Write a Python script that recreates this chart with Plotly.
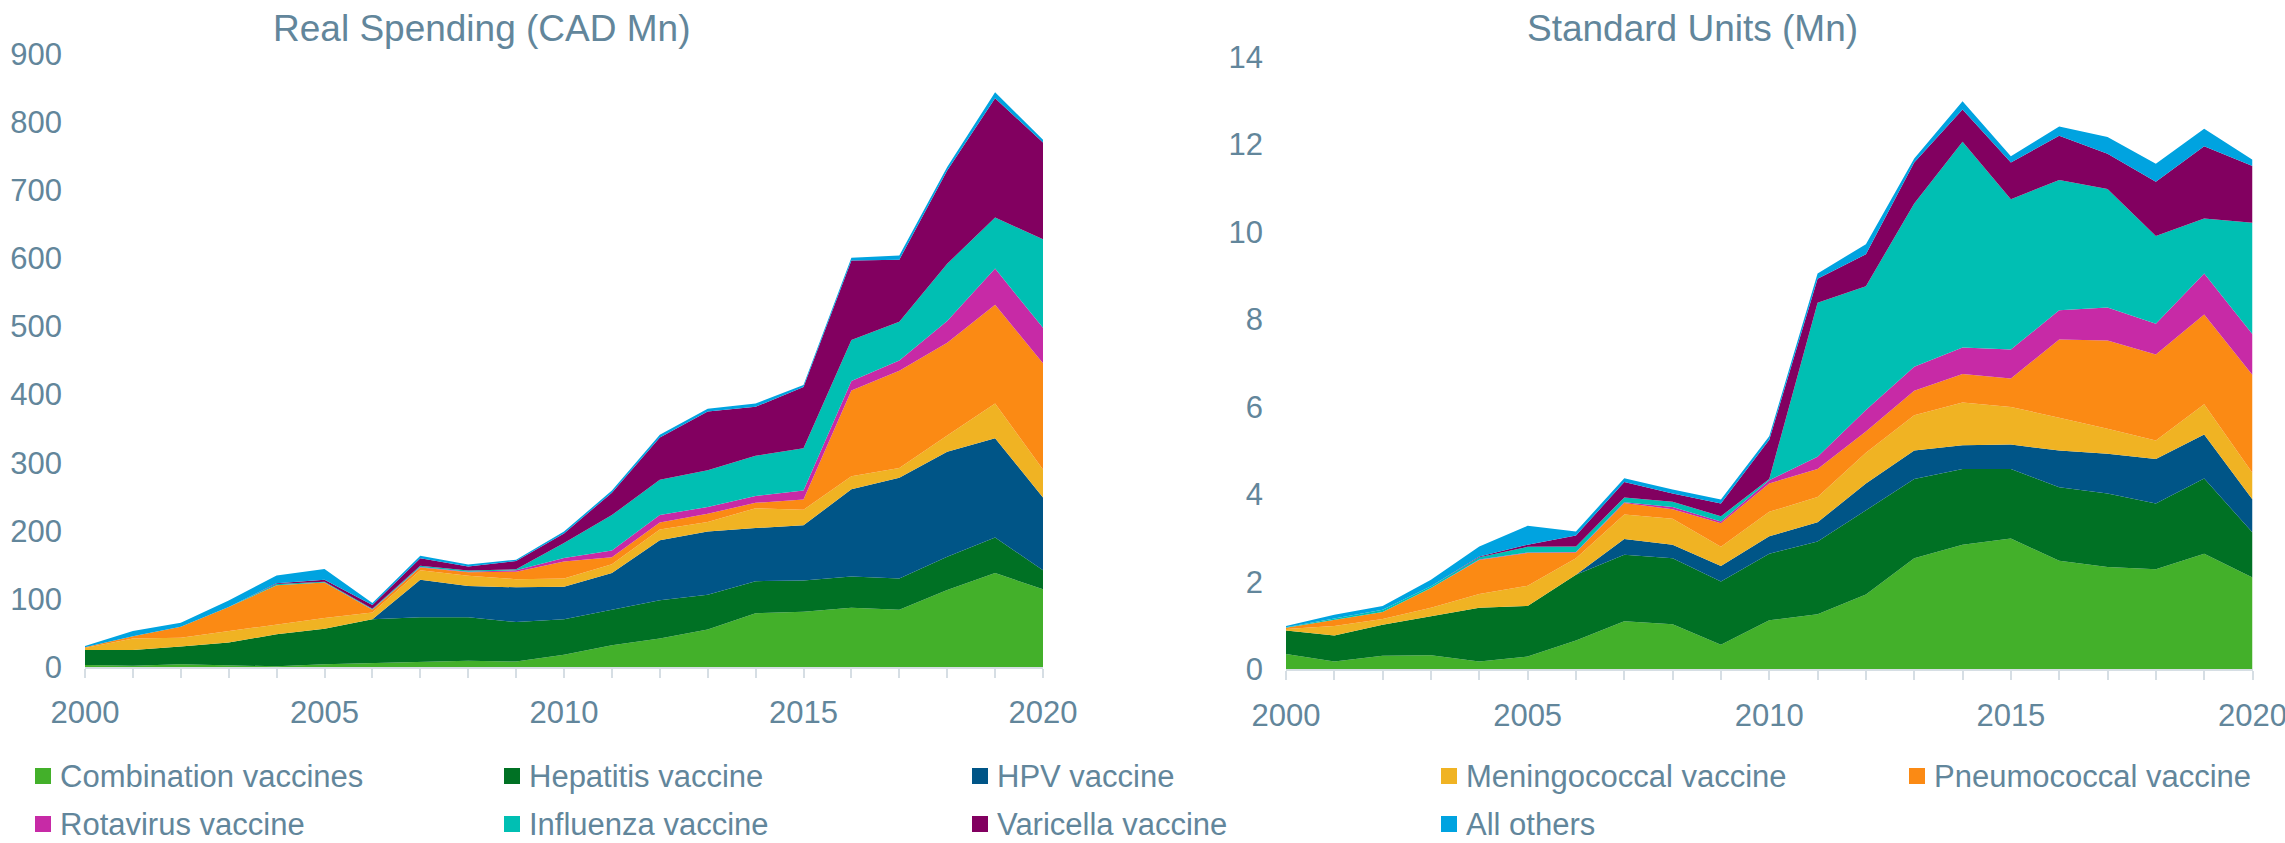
import plotly.graph_objects as go

W, H = 2285, 843

years = list(range(2000, 2021))

categories = ["Combination vaccines", "Hepatitis vaccine", "HPV vaccine",
              "Meningococcal vaccine", "Pneumococcal vaccine", "Rotavirus vaccine",
              "Influenza vaccine", "Varicella vaccine", "All others"]
colors = ["#43B02A", "#007124", "#005587", "#F0B323", "#FB8A14",
          "#C72AA6", "#00BFB3", "#820060", "#00A3E0"]

# Real Spending (CAD Mn)
spend_combination = [3, 2, 4, 2, 1, 4, 6, 8, 9, 8, 18, 32, 42, 55, 79, 81, 87, 84, 113, 138, 114]
spend_hepatitis = [22, 23, 26, 34, 47, 52, 64, 65, 64, 58, 52, 52, 56, 51, 47, 46, 46, 46, 49, 52, 28]
spend_hpv = [0, 0, 0, 0, 0, 0, 0, 55, 46, 51, 48, 54, 88, 93, 78, 81, 128, 148, 154, 146, 107]
spend_meningococcal = [3, 17, 13, 17, 15, 16, 10, 14, 15, 12, 12, 13, 16, 14, 29, 23, 19, 14, 24, 51, 41]
spend_pneumococcal = [1, 3, 16, 35, 57, 52, 4, 4, 5, 11, 25, 10, 10, 12, 8, 15, 126, 143, 136, 145, 156]
spend_rotavirus = [0, 0, 0, 0, 0, 0, 0.5, 1, 1, 2, 5, 10, 11, 10, 10, 13, 14, 15, 32, 53, 52]
spend_influenza = [0, 0, 0, 0, 2, 1, 1, 1.5, 1.5, 1.5, 22, 52, 52, 54, 59, 62, 60, 57, 84, 75, 130]
spend_varicella = [0, 0, 0, 0, 1, 3, 5.5, 11, 6, 12, 14, 33, 62, 86, 72, 90, 117, 91, 137, 175, 142]
spend_others = [2, 8, 6, 9.5, 11.5, 16, 3, 4, 3, 2, 3, 3, 4, 4, 5, 3, 4, 6, 5, 9, 4]

# Standard Units (Mn)
units_combination = [0.35, 0.18, 0.31, 0.32, 0.18, 0.29, 0.66, 1.10, 1.03, 0.56, 1.12, 1.26, 1.71, 2.54, 2.85, 2.99, 2.48, 2.34, 2.29, 2.64, 2.10]
units_hepatitis = [0.54, 0.59, 0.71, 0.89, 1.23, 1.16, 1.50, 1.52, 1.51, 1.45, 1.52, 1.66, 1.93, 1.81, 1.73, 1.59, 1.68, 1.68, 1.50, 1.72, 1.03]
units_hpv = [0, 0, 0, 0, 0, 0, 0, 0.36, 0.31, 0.35, 0.40, 0.44, 0.61, 0.65, 0.54, 0.56, 0.84, 0.91, 1.02, 1.01, 0.75]
units_meningococcal = [0.03, 0.22, 0.13, 0.20, 0.31, 0.46, 0.38, 0.56, 0.59, 0.44, 0.56, 0.58, 0.70, 0.81, 0.98, 0.86, 0.75, 0.57, 0.42, 0.69, 0.61]
units_pneumococcal = [0.03, 0.14, 0.16, 0.45, 0.78, 0.75, 0.13, 0.26, 0.22, 0.54, 0.65, 0.64, 0.49, 0.56, 0.65, 0.65, 1.79, 2.02, 1.97, 2.05, 2.24]
units_rotavirus = [0, 0, 0, 0, 0.01, 0.01, 0.01, 0.02, 0.05, 0.04, 0.07, 0.28, 0.49, 0.55, 0.61, 0.66, 0.67, 0.75, 0.70, 0.94, 0.93]
units_influenza = [0.01, 0.03, 0.05, 0.04, 0.05, 0.13, 0.13, 0.11, 0.12, 0.12, 0.03, 3.52, 2.83, 3.73, 4.70, 3.44, 2.98, 2.71, 2.01, 1.26, 2.55]
units_varicella = [0, 0, 0, 0, 0.02, 0.05, 0.25, 0.35, 0.19, 0.29, 0.90, 0.55, 0.73, 0.94, 0.74, 0.84, 1.01, 0.81, 1.24, 1.65, 1.30]
units_others = [0.03, 0.09, 0.09, 0.15, 0.23, 0.43, 0.09, 0.09, 0.09, 0.09, 0.08, 0.12, 0.23, 0.09, 0.19, 0.14, 0.21, 0.38, 0.41, 0.40, 0.14]

spend_series = [spend_combination, spend_hepatitis, spend_hpv, spend_meningococcal,
                spend_pneumococcal, spend_rotavirus, spend_influenza, spend_varicella, spend_others]
units_series = [units_combination, units_hepatitis, units_hpv, units_meningococcal,
                units_pneumococcal, units_rotavirus, units_influenza, units_varicella, units_others]

titles = ["Real Spending (CAD Mn)", "Standard Units (Mn)"]

TEXT = "#62869B"
AXIS = "#D6DEE4"
FONT = "Liberation Sans, Arial, sans-serif"

fig = go.Figure()
for name, col, s in zip(categories, colors, spend_series):
    fig.add_trace(go.Scatter(x=years, y=s, name=name, stackgroup="spend", mode="lines",
                             line=dict(width=0, color=col), fillcolor=col,
                             showlegend=False, xaxis="x", yaxis="y"))
for name, col, s in zip(categories, colors, units_series):
    fig.add_trace(go.Scatter(x=years, y=s, name=name, stackgroup="units", mode="lines",
                             line=dict(width=0, color=col), fillcolor=col,
                             showlegend=False, xaxis="x2", yaxis="y2"))


def px_x(p):
    return p / W


def px_y(p):
    return 1 - p / H


xcommon = dict(range=[2000, 2020], tick0=2000, dtick=5, ticks="outside", ticklen=9,
               tickwidth=2, tickcolor=AXIS, showline=True, linecolor=AXIS, linewidth=2,
               showgrid=False, zeroline=False, ticklabelstandoff=8, automargin=False,
               ticklabeloverflow="allow",
               tickfont=dict(size=31, color=TEXT, family=FONT),
               minor=dict(dtick=1, tick0=2000, ticks="outside", ticklen=9, tickwidth=2,
                          tickcolor=AXIS, showgrid=False))
ycommon = dict(showgrid=False, zeroline=False, showline=False, ticks="", automargin=False,
               ticklabelstandoff=22, tickfont=dict(size=31, color=TEXT, family=FONT))

fig.update_layout(
    template="none",
    width=W, height=H,
    margin=dict(l=0, r=0, t=0, b=0, pad=0),
    paper_bgcolor="white", plot_bgcolor="white",
    font=dict(family=FONT, color=TEXT),
    showlegend=False,
    xaxis=dict(domain=[px_x(85), px_x(1043)], anchor="y", **xcommon),
    yaxis=dict(domain=[px_y(667), px_y(54)], anchor="x", range=[0, 900], dtick=100, **ycommon),
    xaxis2=dict(domain=[px_x(1286), px_x(2252.5)], anchor="y2", **xcommon),
    yaxis2=dict(domain=[px_y(669.3), px_y(57)], anchor="x2", range=[0, 14], dtick=2, **ycommon),
)

annotations = [
    dict(text=titles[0], x=px_x(481), y=px_y(28), xref="paper", yref="paper",
         xanchor="center", yanchor="middle", showarrow=False,
         font=dict(size=37, color=TEXT, family=FONT)),
    dict(text=titles[1], x=px_x(1692), y=px_y(28), xref="paper", yref="paper",
         xanchor="center", yanchor="middle", showarrow=False,
         font=dict(size=37, color=TEXT, family=FONT)),
]
shapes = []

# custom legend: 5 columns x 2 rows
col_x = [35, 504, 972, 1441, 1909]
row_y = [776, 824]
for i, (name, col) in enumerate(zip(categories, colors)):
    r, c = divmod(i, 5)
    x0 = col_x[c]
    yc = row_y[r]
    shapes.append(dict(type="rect", xref="paper", yref="paper",
                       x0=px_x(x0), x1=px_x(x0 + 16), y0=px_y(yc + 8), y1=px_y(yc - 8),
                       fillcolor=col, line=dict(width=0)))
    annotations.append(dict(text=name, x=px_x(x0 + 23), y=px_y(yc), xref="paper", yref="paper",
                            xanchor="left", yanchor="middle", showarrow=False,
                            font=dict(size=31, color=TEXT, family=FONT)))

fig.update_layout(annotations=annotations, shapes=shapes)

fig.write_html("out.html", config={"displayModeBar": False},
               post_script="document.body.style.margin='0';document.body.style.overflow='hidden';")
